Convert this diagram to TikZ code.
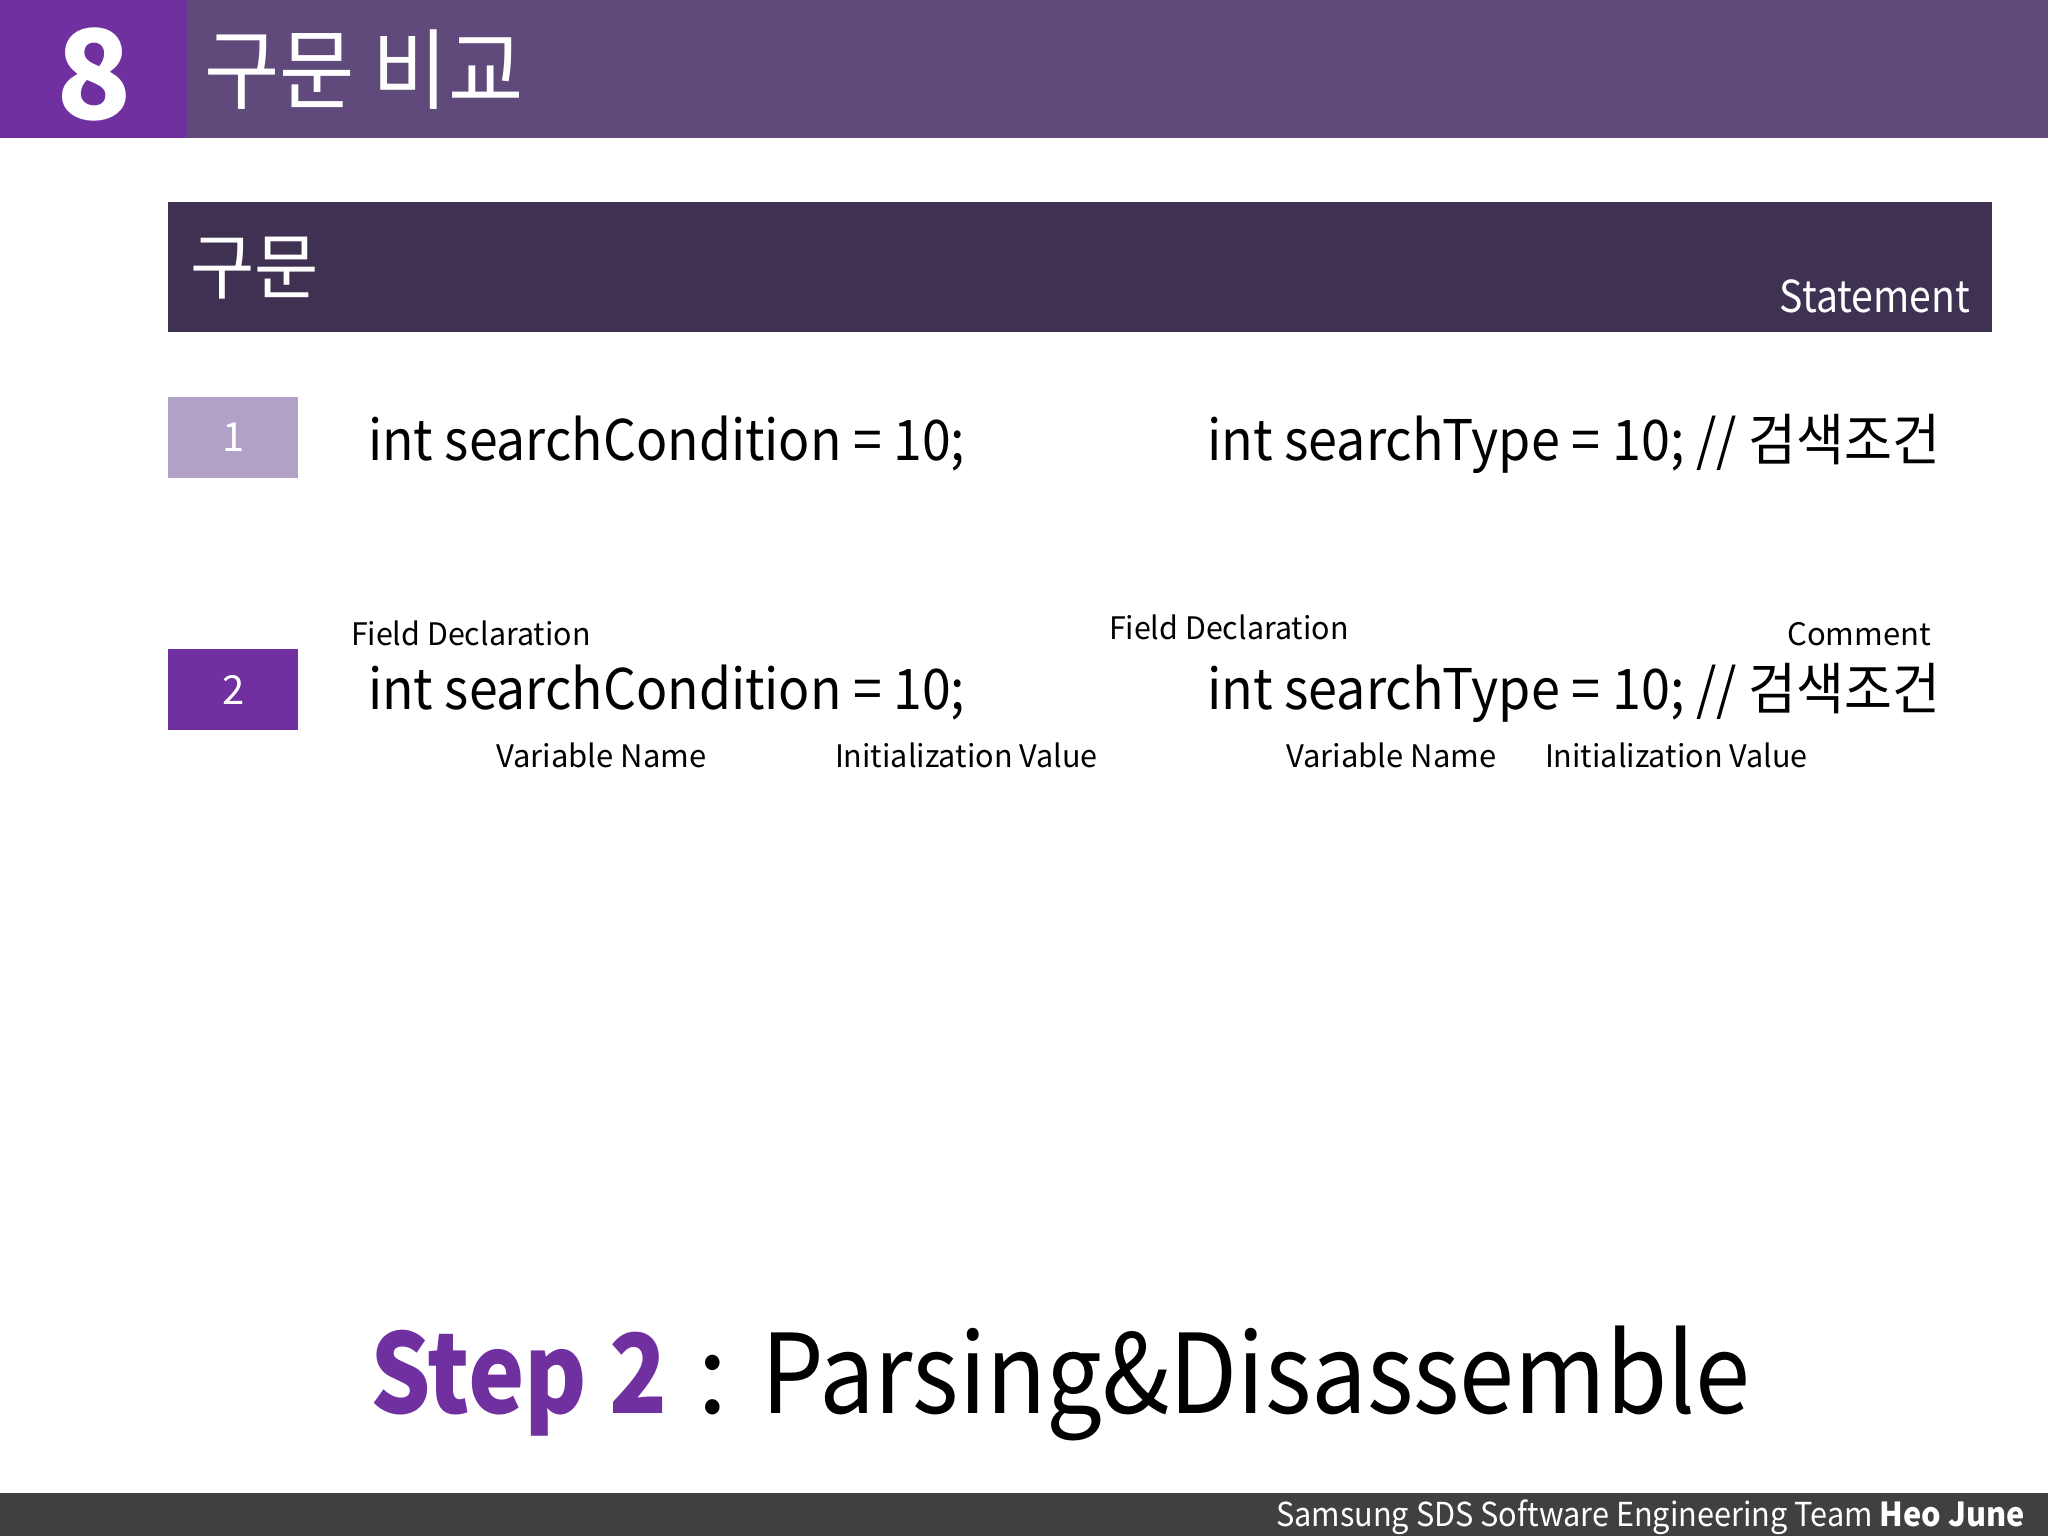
\documentclass[tikz,border=0pt]{standalone}
\usepackage{fontspec}
\setmainfont{Noto Sans CJK KR}
\definecolor{hdrpurple}{HTML}{7030A0}
\definecolor{hdrgray}{HTML}{604A7B}
\definecolor{boxdark}{HTML}{3F3151}
\definecolor{boxlight}{HTML}{B2A1C7}
\definecolor{footgray}{HTML}{404040}
\newcommand\narrowtxt[2]{\scalebox{#1}[1]{#2}}
\tikzset{
  txt/.style={inner sep=0pt, outer sep=0pt},
  code/.style={txt, anchor=base west, font=\fontsize{56}{60}\selectfont},
  lbl/.style={txt, font=\fontsize{31}{36}\selectfont},
  numbox/.style={minimum width=130pt, minimum height=81pt, inner sep=0pt, text=white, font=\fontsize{40}{44}\selectfont},
}
\begin{document}
\begin{tikzpicture}[x=1pt,y=-1pt]
\useasboundingbox (0,0) rectangle (2048,1536);
% header
\fill[hdrgray] (0,0) rectangle (2048,138);
\fill[hdrpurple] (0,0) rectangle (187,138);
\node[txt, text=white, font=\fontsize{124}{130}\selectfont\bfseries] (num) at (94,74) {8};
\node[txt, anchor=west, text=white, font=\fontsize{88}{96}\selectfont] (title) at (204,70) {\narrowtxt{0.93}{구문 비교}};
% statement bar
\node[fill=boxdark, minimum width=1824pt, minimum height=130pt, inner sep=0pt, anchor=north west] (bar) at (168,202) {};
\node[txt, anchor=west, text=white, font=\fontsize{72}{78}\selectfont] (barko) at (190,268) {\narrowtxt{0.97}{구문}};
\node[txt, anchor=base east, text=white, font=\fontsize{44}{48}\selectfont] (stmt) at (1970,312) {\narrowtxt{0.89}{Statement}};
% row 1
\node[numbox, fill=boxlight, anchor=north west] (b1) at (168,397) {1};
\node[code] (c1a) at (368,460) {\narrowtxt{0.923}{int searchCondition = 10;}};
\node[code] (c1b) at (1207,460) {\narrowtxt{0.93}{int searchType = 10; // 검색조건}};
% row 2
\node[numbox, fill=hdrpurple, anchor=north west] (b2) at (168,649) {2};
\node[code] (c2a) at (368,709) {\narrowtxt{0.923}{int searchCondition = 10;}};
\node[code] (c2b) at (1207,709) {\narrowtxt{0.93}{int searchType = 10; // 검색조건}};
\node[lbl, anchor=base west] (fd1) at (351,645) {\narrowtxt{0.98}{Field Declaration}};
\node[lbl, anchor=base west] (fd2) at (1109,639) {\narrowtxt{0.98}{Field Declaration}};
\node[lbl, anchor=base east] (cm) at (1931,645) {Comment};
\node[lbl, anchor=base west] (vn1) at (496,767) {Variable Name};
\node[lbl, anchor=base west] (iv1) at (835,767) {\narrowtxt{0.985}{Initialization Value}};
\node[lbl, anchor=base west] (vn2) at (1286,767) {Variable Name};
\node[lbl, anchor=base west] (iv2) at (1545,767) {\narrowtxt{0.985}{Initialization Value}};
% step line
\node[txt, anchor=base west, text=hdrpurple, font=\fontsize{110}{116}\selectfont\bfseries] (step) at (370,1413) {\narrowtxt{0.865}{Step 2}};
\node[txt, anchor=base, font=\fontsize{110}{116}\selectfont] (colon) at (713,1413) {:};
\node[txt, anchor=base west, font=\fontsize{110}{116}\selectfont] (parse) at (761,1413) {\narrowtxt{0.9}{Parsing\&Disassemble}};
% footer
\fill[footgray] (0,1493) rectangle (2048,1536);
\node[txt, anchor=base east, text=white, font=\fontsize{33}{36}\selectfont] (foot) at (2025,1526) {\narrowtxt{0.93}{Samsung SDS Software Engineering Team \textbf{Heo June}}};
\end{tikzpicture}
\end{document}
